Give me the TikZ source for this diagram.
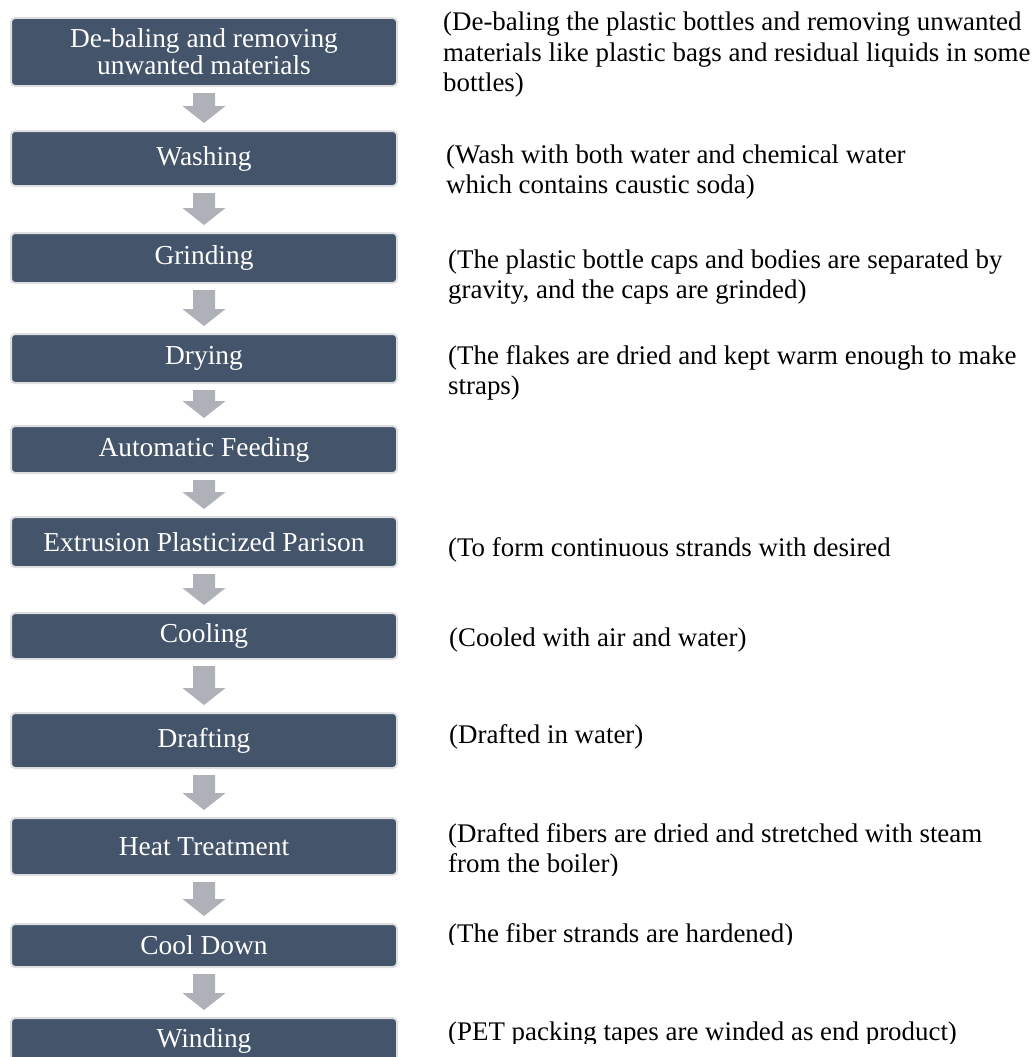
\documentclass[tikz,border=0pt]{standalone}
\usepackage{fontspec}
\setmainfont{Liberation Serif}
\usetikzlibrary{calc}
\definecolor{stepfill}{HTML}{44546A}
\definecolor{stepedge}{HTML}{DDDEE0}
\definecolor{flowgray}{HTML}{AEB1B8}
\begin{document}
\begin{tikzpicture}[x=1pt,y=-1pt,
  stepbox/.style={fill=stepfill, draw=stepedge, line width=2pt,
    rounded corners=4pt, minimum width=386pt, inner sep=0pt,
    text=white, align=center, font=\fontsize{27.4}{27}\selectfont},
  note/.style={anchor=base west, align=left, inner sep=0pt,
    font=\fontsize{26.9}{30.5}\selectfont}]
\clip (0,0) rectangle (1035,1057);

% process steps
\node[stepbox, minimum height=68pt] (s1)  at (204,52)     {De-baling and removing\\unwanted materials};
\node[stepbox, minimum height=55pt] (s2)  at (204,158.5)  {Washing};
\node[stepbox, minimum height=50pt] (s3)  at (204,258)    {Grinding};
\node[stepbox, minimum height=49pt] (s4)  at (204,358.5)  {Drying};
\node[stepbox, minimum height=47pt] (s5)  at (204,449.5)  {Automatic Feeding};
\node[stepbox, minimum height=50pt] (s6)  at (204,542)    {Extrusion Plasticized Parison};
\node[stepbox, minimum height=46pt] (s7)  at (204,636)    {Cooling};
\node[stepbox, minimum height=55pt] (s8)  at (204,740.5)  {Drafting};
\node[stepbox, minimum height=57pt] (s9)  at (204,846.5)  {Heat Treatment};
\node[stepbox, minimum height=43pt] (s10) at (204,945.5)  {Cool Down};
\node[stepbox, minimum height=46pt] (s11) at (204,1041)   {Winding};

% block arrows between the steps
\foreach \a/\b in {s1/s2,s2/s3,s3/s4,s4/s5,s5/s6,s6/s7,s7/s8,s8/s9,s9/s10,s10/s11}{
  \fill[flowgray] let \p1=($(\a.south)+(0,6)$), \p2=($(\b.north)+(0,-7)$) in
    (\x1-11pt,\y1) -- (\x1+11pt,\y1) -- (\x1+11pt,\y2+17pt) -- (\x1+21.5pt,\y2+17pt)
    -- (\x1,\y2) -- (\x1-21.5pt,\y2+17pt) -- (\x1-11pt,\y2+17pt) -- cycle;
}

% explanatory notes (anchored at the baseline of their last line)
\node[note] (n1) at (443,92) {(De-baling the plastic bottles and removing unwanted\\materials like plastic bags and residual liquids in some\\bottles)};
\node[note] (n2) at (446,193.5) {(Wash with both water and chemical water\\which contains caustic soda)};
\node[note] (n3) at (448,298.5) {(The plastic bottle caps and bodies are separated by\\gravity, and the caps are grinded)};
\node[note] (n4) at (448,394.5) {(The flakes are dried and kept warm enough to make\\straps)};
\node[note] (n6) at (448,556) {(To form continuous strands with desired};
\node[note] (n7) at (449,646) {(Cooled with air and water)};
\node[note] (n8) at (449,743) {(Drafted in water)};
\begin{scope}
  \clip (420,800) rectangle (1035,875);
  \node[note] (n9) at (448,872.5) {(Drafted fibers are dried and stretched with steam\\from the boiler)};
\end{scope}
\begin{scope}
  \clip (420,910) rectangle (1035,944);
  \node[note] (n10) at (448,942) {(The fiber strands are hardened)};
\end{scope}
\begin{scope}
  \clip (420,1005) rectangle (1035,1043);
  \node[note] (n11) at (448,1040) {(PET packing tapes are winded as end product)};
\end{scope}
\end{tikzpicture}
\end{document}
